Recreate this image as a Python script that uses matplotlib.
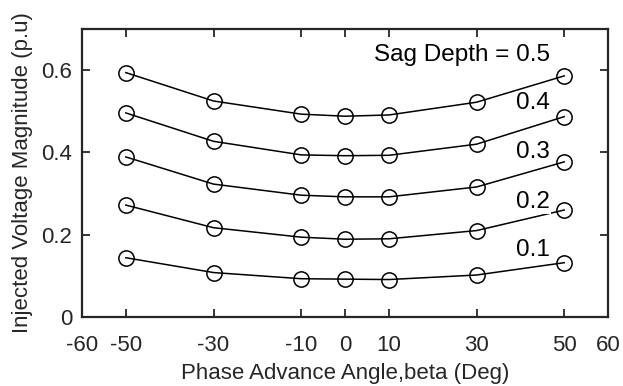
import matplotlib.pyplot as plt

plt.rcParams['font.family'] = ['Liberation Sans', 'DejaVu Sans']

# phase advance angle (deg)
beta = [-50, -30, -10, 0, 10, 30, 50]

# injected voltage magnitude (p.u) per sag depth
v_01 = [0.144, 0.108, 0.093, 0.092, 0.091, 0.102, 0.132]
v_02 = [0.272, 0.217, 0.194, 0.189, 0.190, 0.210, 0.260]
v_03 = [0.389, 0.323, 0.296, 0.292, 0.292, 0.316, 0.377]
v_04 = [0.496, 0.427, 0.394, 0.392, 0.393, 0.420, 0.487]
v_05 = [0.594, 0.525, 0.493, 0.488, 0.491, 0.522, 0.586]

series = [v_01, v_02, v_03, v_04, v_05]
labels = ['0.1', '0.2', '0.3', '0.4', 'Sag Depth = 0.5']
label_y = [0.163, 0.280, 0.400, 0.520, 0.636]

xticks = [-60, -50, -30, -10, 0, 10, 30, 50, 60]
yticks = [0, 0.2, 0.4, 0.6]

fig = plt.figure(figsize=(6.23, 3.86), dpi=100)
ax = fig.add_axes([0.1316, 0.1788, 0.8444, 0.7461])

for v in series:
    ax.plot(beta, v, color='black', lw=1.1, marker='o', markersize=11,
            markerfacecolor='none', markeredgecolor='black', markeredgewidth=1.1,
            zorder=2)

for lab, yy in zip(labels, label_y):
    ax.text(46.8, yy, lab, ha='right', va='center', fontsize=17.5, color='black',
            bbox=dict(facecolor='white', edgecolor='none', pad=0.5), zorder=3)

ax.set_xlim(-60, 60)
ax.set_ylim(0, 0.7)
ax.set_xticks(xticks)
ax.set_xticklabels([str(t) for t in xticks])
ax.set_yticks(yticks)
ax.set_yticklabels(['0', '0.2', '0.4', '0.6'])
ax.tick_params(direction='in', top=True, right=True, length=6, width=1.3,
               labelsize=16, color='#262626', labelcolor='#262626')
ax.tick_params(axis='x', pad=13)
ax.tick_params(axis='y', pad=7)
for s in ax.spines.values():
    s.set_linewidth(1.6)
    s.set_color('#262626')

ax.set_xlabel('Phase Advance Angle,beta (Deg)', fontsize=16, color='#262626', labelpad=5)
ax.set_ylabel('Injected Voltage Magnitude (p.u)', fontsize=16, color='#262626', labelpad=6)

fig.savefig('out.png', dpi=100)
